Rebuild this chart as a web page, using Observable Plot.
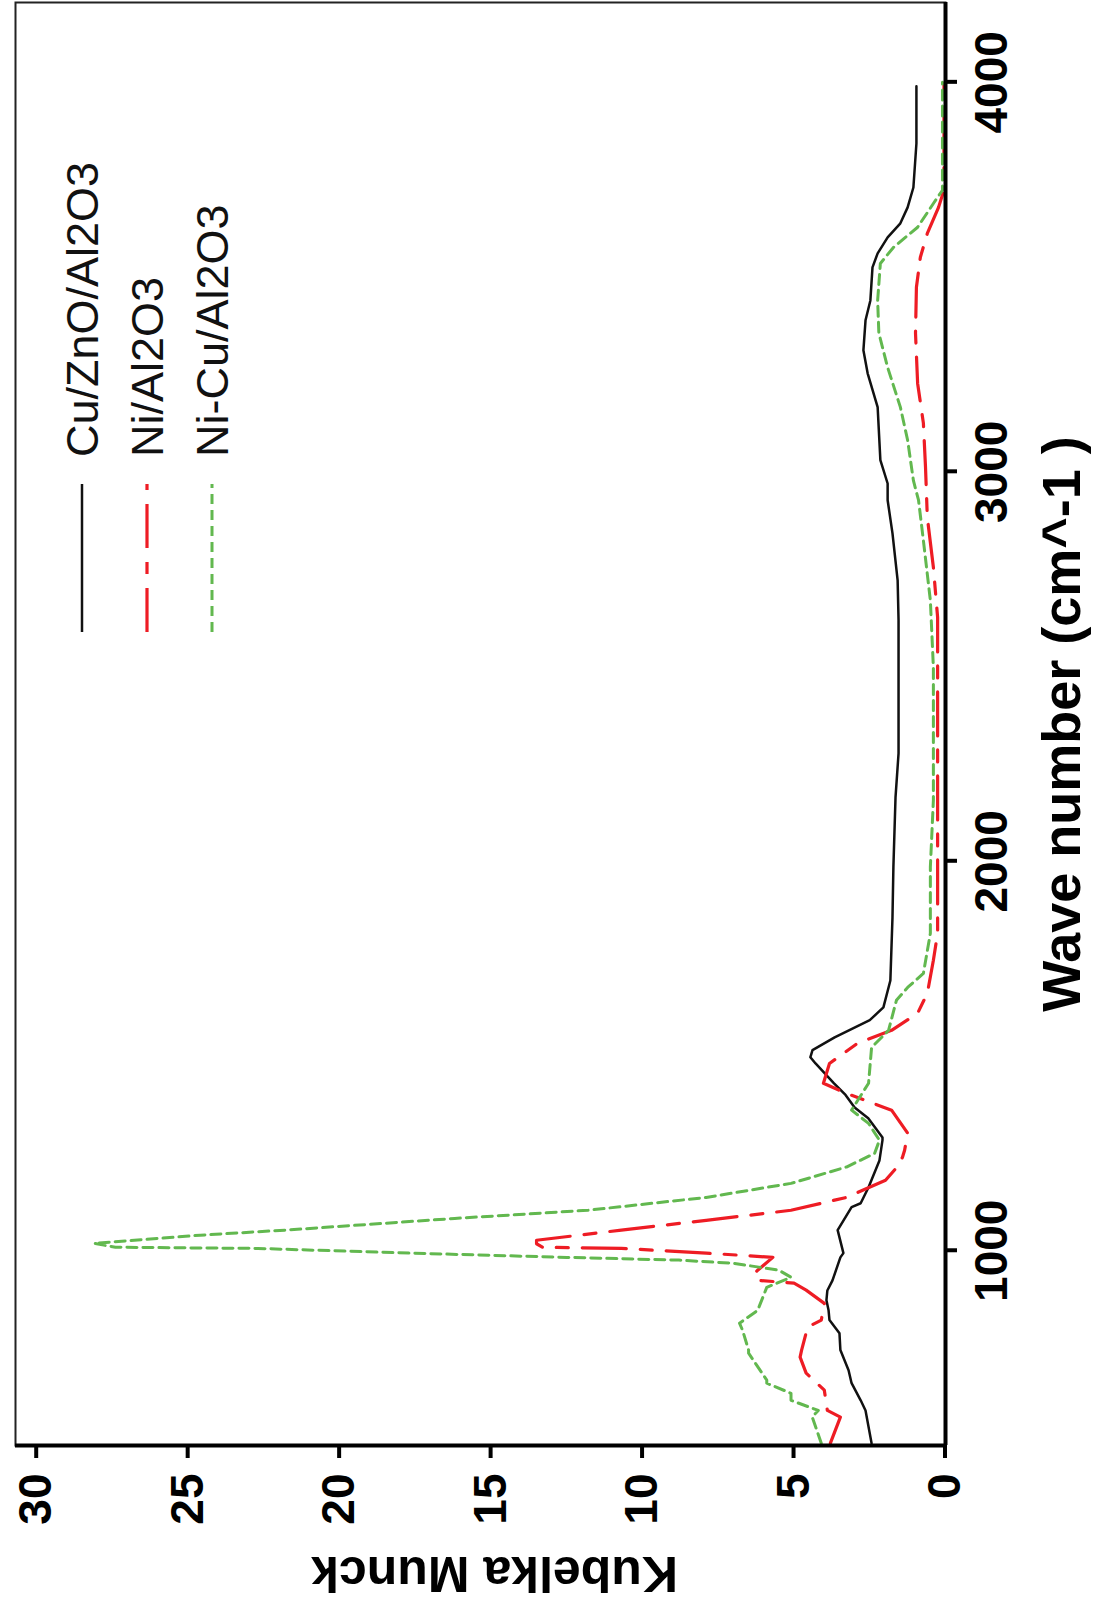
<!DOCTYPE html>
<html><head><meta charset="utf-8">
<script src="https://cdn.jsdelivr.net/npm/d3@7"></script>
<script src="https://cdn.jsdelivr.net/npm/@observablehq/plot@0.6"></script>
<style>
html,body{margin:0;padding:0;background:#fff;overflow:hidden}
#chart svg{display:block}
</style></head><body><div id="chart"></div>
<script>
// ---- data ----
const seriesNames = ["Cu/ZnO/Al2O3", "Ni/Al2O3", "Ni-Cu/Al2O3"];
const seriesColors = ["#111111", "#ee1c24", "#62b84f"];
const seriesDash = [null, "44,14,12,14", "10,6"];
const seriesWidth = [2.5, 3.2, 3];

const waveCuZnO = [506,590,616,660,693,745,788,822,847,873,898,924,983,994,1053,1112,1122,1163,1232,1284,1291,1340,1368,1400,1430,1481,1497,1515,1548,1592,1625,1694,1856,1985,2164,2277,2619,2721,2842,2927,2970,3030,3166,3253,3312,3389,3440,3525,3561,3602,3638,3679,3730,3843,3990];
const kmCuZnO = [2.44,2.64,2.8,3.1,3.2,3.47,3.5,3.83,3.86,3.93,3.9,3.73,3.47,3.37,3.56,3.1,2.8,2.54,2.18,2.08,2.08,2.55,3.0,3.3,3.68,4.29,4.46,4.39,3.66,2.5,2.05,1.82,1.75,1.72,1.65,1.55,1.55,1.58,1.75,1.91,1.91,2.15,2.24,2.57,2.71,2.64,2.48,2.41,2.24,1.91,1.49,1.25,1.06,0.96,0.96];

const waveNi = [506,573,590,642,686,727,745,804,822,865,899,917,924,942,950,983,994,1006,1009,1018,1027,1053,1078,1104,1137,1181,1215,1240,1258,1302,1361,1404,1430,1481,1533,1566,1610,1661,1746,1815,2157,2626,2755,2883,3012,3125,3227,3356,3474,3551,3612,3679,3723,4000];
const kmNi = [3.8,3.47,3.9,4.0,4.6,4.8,4.75,4.55,4.1,4.0,4.6,5.0,6.2,6.3,6.2,5.7,7.9,10.7,13.3,13.5,13.5,10.7,7.9,5.1,3.27,1.98,1.6,1.42,1.35,1.25,1.78,3.27,4.03,3.83,2.9,1.78,0.92,0.6,0.4,0.26,0.26,0.26,0.4,0.6,0.66,0.73,0.92,0.99,0.96,0.83,0.6,0.23,0.05,0.05];

const waveNiCu = [506,573,590,616,634,660,668,737,745,796,814,847,906,932,950,968,976,983,994,1006,1009,1019,1040,1053,1083,1104,1137,1173,1215,1250,1284,1327,1361,1386,1430,1522,1566,1643,1676,1712,1815,1985,2157,2498,2670,2824,2927,2978,3081,3166,3268,3356,3440,3535,3576,3628,3689,3723,4000];
const kmNiCu = [4.1,4.4,4.2,5.1,5.1,5.9,5.9,6.5,6.5,6.7,6.8,6.2,5.9,5.1,5.5,7.0,8.8,12.5,17.7,22.7,27.4,28.1,24.6,21.8,16.2,11.8,7.9,5.1,3.27,2.34,2.18,2.54,3.1,2.9,2.54,2.44,1.88,1.62,1.25,0.73,0.5,0.5,0.4,0.4,0.5,0.73,0.89,1.06,1.25,1.49,1.91,2.2,2.24,2.15,1.72,0.92,0.4,0.1,0.1];

const kmTicks = [0, 5, 10, 15, 20, 25, 30];
const waveTicks = [1000, 2000, 3000, 4000];
const kmDomain = [0, 30.7];
const waveDomain = [500, 4205];
const waveLabel = "Wave number (cm^-1 )";
const kmLabel = "Kubelka Munck";

// ---- build ----
const W = 1094, H = 1614;
const mL = 15, mR = 149, mT = 2, mB = 169;
const font = "'Liberation Sans', Arial, Helvetica, sans-serif";

const zip = (ws, ks) => ws.map((w, i) => ({wave: w, km: ks[i]}));
const series = [zip(waveCuZnO, kmCuZnO), zip(waveNi, kmNi), zip(waveNiCu, kmNiCu)];

const lineMarks = series.map((d, i) => Plot.line(d, {
  x: "km", y: "wave", stroke: seriesColors[i], strokeWidth: seriesWidth[i],
  strokeDasharray: seriesDash[i] || undefined, strokeLinejoin: "round"
}));

const chart = Plot.plot({
  width: W, height: H,
  marginLeft: mL, marginRight: mR, marginTop: mT, marginBottom: mB,
  x: {domain: kmDomain, reverse: true, axis: null},
  y: {domain: waveDomain, axis: null},
  style: {fontFamily: font, background: "#fff", color: "#000"},
  marks: [
    Plot.frame({stroke: "#222", strokeWidth: 2}),
    ...lineMarks,
    Plot.ruleY([waveDomain[0]], {stroke: "#000", strokeWidth: 4}),
    Plot.ruleX([kmDomain[0]], {stroke: "#000", strokeWidth: 4}),
    Plot.text(kmTicks, {x: d => d, text: d => String(d), frameAnchor: "bottom", dy: 28,
      rotate: -90, textAnchor: "end", lineAnchor: "middle", fontSize: 46, fontWeight: "bold", fill: "#000"}),
    Plot.text(waveTicks, {y: d => d, text: d => String(d), frameAnchor: "right", dx: 47,
      rotate: -90, textAnchor: "middle", lineAnchor: "middle", fontSize: 46, fontWeight: "bold", fill: "#000"}),
    Plot.text([waveLabel], {text: d => d, frameAnchor: "right", dx: 117,
      rotate: -90, textAnchor: "middle", lineAnchor: "middle", fontSize: 54, fontWeight: "bold", fill: "#000"}),
    Plot.text([kmLabel], {text: d => d, frameAnchor: "bottom", dx: 14, dy: 127,
      rotate: 180, textAnchor: "middle", lineAnchor: "middle", fontSize: 50, fontWeight: "bold", fill: "#000"})
  ]
});

// ticks drawn through the plot's own scales
const sx = chart.scale("x"), sy = chart.scale("y");
const svg = d3.select(chart);
const bottomY = H - mB, rightX = W - mR;
const gt = svg.append("g").attr("stroke", "#000").attr("stroke-width", 4);
kmTicks.forEach(v => {
  const px = sx.apply(v);
  gt.append("line").attr("x1", px).attr("x2", px).attr("y1", bottomY).attr("y2", bottomY + 13);
});
waveTicks.forEach(v => {
  const py = sy.apply(v);
  gt.append("line").attr("x1", rightX).attr("x2", rightX + 12).attr("y1", py).attr("y2", py);
});

// legend (rotated like the rest of the figure)
const lg = svg.append("g");
seriesNames.forEach((name, i) => {
  const lx = 82 + i * 65;
  lg.append("line").attr("x1", lx).attr("x2", lx).attr("y1", 632).attr("y2", 484)
    .attr("stroke", seriesColors[i]).attr("stroke-width", seriesWidth[i])
    .attr("stroke-dasharray", seriesDash[i]);
  lg.append("text").attr("transform", `translate(${lx},457) rotate(-90)`)
    .attr("text-anchor", "start").attr("dy", "0.35em")
    .attr("font-family", font).attr("font-size", 45).attr("fill", "#111")
    .text(name);
});

document.getElementById("chart").appendChild(chart);
</script>
</body></html>
